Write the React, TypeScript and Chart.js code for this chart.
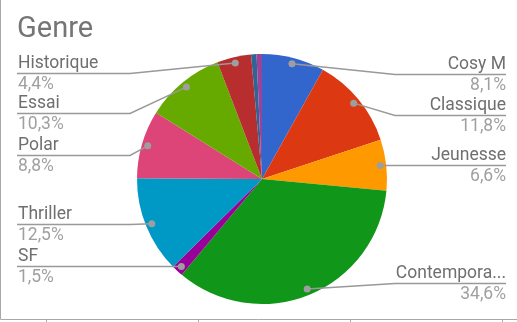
import React, { useEffect, useRef } from "react";
import { Chart, registerables } from "chart.js";

Chart.register(...registerables);

const categories = ["Cosy M", "Classique", "Jeunesse", "Contemporain", "SF", "Thriller", "Polar", "Essai", "Historique", "Autre", "Divers"];
const shares = [8.1, 11.8, 6.6, 34.6, 1.5, 12.5, 8.8, 10.3, 4.4, 0.7, 0.7];
const colors = ["#3366cc", "#dc3912", "#ff9900", "#109618", "#990099", "#0099c6", "#dd4477", "#66aa00", "#b82e2e", "#316395", "#994499"];
const chartTitle = "Genre";

// label layout: side and underline y for each labelled slice
const labelLayout: ({ side: "left" | "right"; y: number } | null)[] = [
  { side: "right", y: 74 },
  { side: "right", y: 115 },
  { side: "right", y: 165 },
  { side: "right", y: 283 },
  { side: "left", y: 266 },
  { side: "left", y: 224 },
  { side: "left", y: 155 },
  { side: "left", y: 113 },
  { side: "left", y: 73 },
  null,
  null,
];

const truncate = (s: string) => (s.length > 10 ? s.slice(0, 10) + "..." : s);

const labelsPlugin = {
  id: "sheetLabels",
  afterDraw(chart: any) {
    const ctx = chart.ctx as CanvasRenderingContext2D;
    const W = chart.width;
    ctx.save();
    // frame
    ctx.strokeStyle = "#a8a8a8";
    ctx.lineWidth = 1;
    ctx.beginPath();
    ctx.moveTo(0.5, 0);
    ctx.lineTo(0.5, 319.5);
    ctx.lineTo(W, 319.5);
    [46, 198, 350, 502].forEach((tx) => {
      ctx.moveTo(tx + 0.5, 319.5);
      ctx.lineTo(tx + 0.5, 322);
    });
    ctx.stroke();

    // title
    ctx.fillStyle = "#757575";
    ctx.font = "29px Roboto";
    ctx.textAlign = "left";
    ctx.textBaseline = "alphabetic";
    ctx.fillText(chartTitle, 17, 37);

    const meta = chart.getDatasetMeta(0);
    const data = chart.data.datasets[0].data as number[];
    const total = data.reduce((a, b) => a + b, 0);
    meta.data.forEach((arc: any, i: number) => {
      const cfg = labelLayout[i];
      if (!cfg) return;
      const p = arc.getProps(["x", "y", "startAngle", "endAngle", "outerRadius"], true);
      const mid = (p.startAngle + p.endAngle) / 2;
      const r = p.outerRadius - 6;
      const px = p.x + Math.cos(mid) * r;
      const py = p.y + Math.sin(mid) * r;
      const uy = cfg.y + 0.5;
      ctx.strokeStyle = "#999999";
      ctx.lineWidth = 1.5;
      ctx.beginPath();
      if (cfg.side === "left") {
        ctx.moveTo(17, uy);
        ctx.lineTo(130, uy);
      } else {
        ctx.moveTo(506, uy);
        ctx.lineTo(395, uy);
      }
      ctx.lineTo(px, py);
      ctx.stroke();
      ctx.fillStyle = "#9e9e9e";
      ctx.beginPath();
      ctx.arc(px, py, 3.5, 0, Math.PI * 2);
      ctx.fill();

      const pct = ((data[i] / total) * 100).toFixed(1).replace(".", ",") + "%";
      const tx = cfg.side === "left" ? 18 : 506;
      ctx.textAlign = cfg.side === "left" ? "left" : "right";
      ctx.font = "17.5px Roboto";
      ctx.fillStyle = "#6f6f6f";
      ctx.fillText(truncate(categories[i]), tx, cfg.y - 5);
      ctx.fillStyle = "#a0a0a0";
      ctx.fillText(pct, tx, cfg.y + 16);
    });
    ctx.restore();
  },
};

export default function App() {
  const ref = useRef<HTMLCanvasElement>(null);
  useEffect(() => {
    document.body.style.margin = "0";
    const chart = new Chart(ref.current!, {
      type: "pie",
      data: {
        labels: categories,
        datasets: [
          {
            data: shares,
            backgroundColor: colors,
            borderWidth: 0,
          },
        ],
      },
      options: {
        responsive: false,
        animation: false,
        layout: { padding: { top: 54, bottom: 18, left: 137, right: 130 } },
        plugins: { legend: { display: false }, tooltip: { enabled: false }, title: { display: false } },
      },
      plugins: [labelsPlugin],
    });
    return () => chart.destroy();
  }, []);
  return (
    <div style={{ width: 517, height: 322, background: "#fff" }}>
      <canvas ref={ref} width={517} height={322} style={{ display: "block" }} />
    </div>
  );
}
